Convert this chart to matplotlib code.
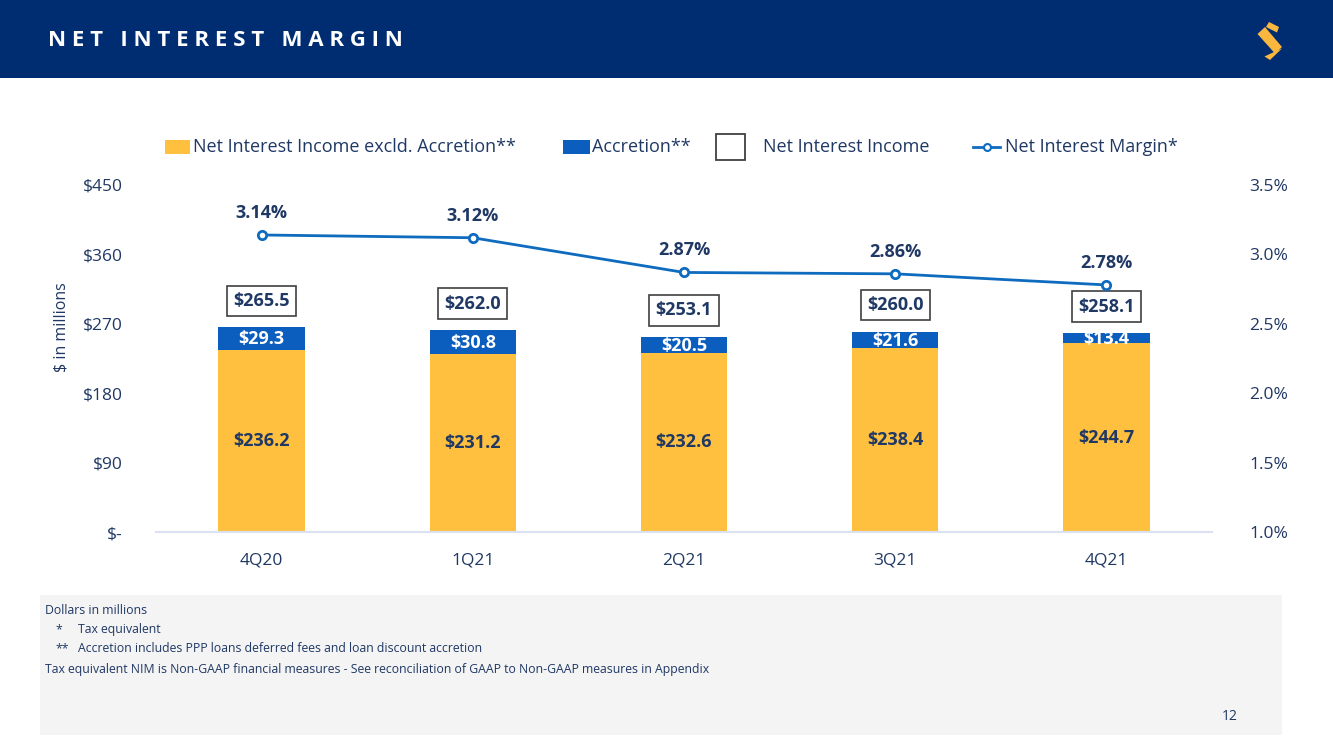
"""Net interest margin slide: stacked bars of net interest income with NIM line."""

import matplotlib.pyplot as plt
from matplotlib.patches import Rectangle, Polygon
from matplotlib.lines import Line2D
from matplotlib.ticker import FixedLocator

plt.rcParams['font.family'] = ['Open Sans', 'DejaVu Sans']

quarters = ['4Q20', '1Q21', '2Q21', '3Q21', '4Q21']
nii_excl = [236.2, 231.2, 232.6, 238.4, 244.7]
accretion = [29.3, 30.8, 20.5, 21.6, 13.4]
nii_total = [265.5, 262.0, 253.1, 260.0, 258.1]
nim = [3.14, 3.12, 2.87, 2.86, 2.78]

left_ticks = [0, 90, 180, 270, 360, 450]
left_labels = ['$-', '$90', '$180', '$270', '$360', '$450']
right_ticks = [1.0, 1.5, 2.0, 2.5, 3.0, 3.5]

NAVY = '#002D72'
TEXT = '#1F3864'
YELLOW = '#FFBF3F'
BLUE = '#0B5EBE'
LINE = '#0E6BBE'

W, H = 1333, 749
fig = plt.figure(figsize=(W / 100, H / 100), dpi=100)
fig.patch.set_facecolor('white')


def px(x, y):
    # pixel position -> figure fraction
    return (x / W, 1 - y / H)


# header band
fig.patches.append(Rectangle(px(0, 78), 1, 78 / H, transform=fig.transFigure,
                             facecolor=NAVY, edgecolor='none', zorder=0))
fig.text(48 / W, 1 - 41 / H, 'N E T   I N T E R E S T   M A R G I N', color='white',
         fontsize=16, fontweight='bold', va='center', ha='left')

# logo, rough "S" from three slanted pieces
logo = [
    [px(1269, 22), px(1279, 27), px(1277, 32.5), px(1266, 27)],
    [px(1257.5, 34), px(1265, 27), px(1282, 47), px(1275, 53.5)],
    [px(1275, 51.5), px(1282, 48.5), px(1270, 60), px(1264.5, 56.5)],
]
for pts in logo:
    fig.patches.append(Polygon(pts, closed=True, transform=fig.transFigure,
                               facecolor='#F9B740', edgecolor='none'))

# footnote panel
fig.patches.append(Rectangle(px(40, 735), (1282 - 40) / W, (735 - 595) / H,
                             transform=fig.transFigure, facecolor='#F4F4F4',
                             edgecolor='none', zorder=0))
notes = [
    (45, 611, 'Dollars in millions'),
    (55, 630, '*'),
    (78, 630, 'Tax equivalent'),
    (55, 649, '**'),
    (78, 649, 'Accretion includes PPP loans deferred fees and loan discount accretion'),
    (45, 669, 'Tax equivalent NIM is Non-GAAP financial measures - See reconciliation of GAAP to Non-GAAP measures in Appendix'),
]
for x, y, s in notes:
    fig.text(x / W, 1 - y / H, s, fontsize=8.8, color=TEXT, va='center', ha='left')
fig.text(1222 / W, 1 - 716 / H, '12', fontsize=10, color=TEXT, va='center', ha='left')

# main axes
ax = fig.add_axes([156 / W, 1 - 532 / H, (1212 - 156) / W, (532 - 185) / H])
x = range(len(quarters))
ax.bar(x, nii_excl, width=0.41, color=YELLOW, zorder=2)
ax.bar(x, accretion, width=0.41, bottom=nii_excl, color=BLUE, zorder=2)
ax.set_xlim(-0.5, len(quarters) - 0.5)
ax.set_ylim(0, 450)
ax.yaxis.set_major_locator(FixedLocator(left_ticks))
ax.set_yticklabels(left_labels)
ax.set_xticks(list(x))
ax.set_xticklabels(quarters)
ax.tick_params(axis='y', length=0, pad=24, labelsize=12.5, labelcolor=TEXT)
ax.tick_params(axis='x', length=0, pad=15, labelsize=12.5, labelcolor=TEXT)
for s in ['top', 'right', 'left']:
    ax.spines[s].set_visible(False)
ax.spines['bottom'].set_color('#D9E1F2')
ax.spines['bottom'].set_linewidth(1.5)
ax.set_ylabel('$ in millions', fontsize=11.5, color=TEXT)
ax.yaxis.set_label_coords(-0.082, 0.59)

for i in x:
    ax.text(i, nii_excl[i] / 2, f'${nii_excl[i]:.1f}', ha='center', va='center',
            fontsize=13, fontweight='bold', color=TEXT, zorder=3)
    ax.text(i, nii_excl[i] + accretion[i] / 2 - 1, f'${accretion[i]:.1f}', ha='center', va='center',
            fontsize=13, fontweight='bold', color='white', zorder=3)
    ax.annotate(f'${nii_total[i]:.1f}', xy=(i, nii_total[i]), xytext=(0, 19),
                textcoords='offset points', ha='center', va='center', fontsize=13,
                fontweight='bold', color=TEXT, zorder=4,
                bbox=dict(boxstyle='square,pad=0.35', facecolor='white',
                          edgecolor='#404040', linewidth=1.2))

ax2 = ax.twinx()
ax2.plot(list(x), nim, color=LINE, linewidth=2, marker='o', markersize=6,
         markerfacecolor='white', markeredgecolor=LINE, markeredgewidth=2, zorder=5)
ax2.set_ylim(1.0, 3.5)
ax2.yaxis.set_major_locator(FixedLocator(right_ticks))
ax2.set_yticklabels([f'{t:.1f}%' for t in right_ticks])
ax2.tick_params(axis='y', length=0, pad=27, labelsize=12.5, labelcolor=TEXT)
for s in ['top', 'right', 'left', 'bottom']:
    ax2.spines[s].set_visible(False)
for i in x:
    ax2.annotate(f'{nim[i]:.2f}%', xy=(i, nim[i]), xytext=(0, 16), textcoords='offset points',
                 ha='center', va='center', fontsize=13, fontweight='bold', color=TEXT)

# legend, laid out by hand to follow the slide
leg_y = 147
fig.patches.append(Rectangle(px(165, leg_y + 7), 25 / W, 14 / H, transform=fig.transFigure,
                             facecolor=YELLOW, edgecolor='none'))
fig.patches.append(Rectangle(px(563, leg_y + 7), 27 / W, 14 / H, transform=fig.transFigure,
                             facecolor=BLUE, edgecolor='none'))
fig.patches.append(Rectangle(px(716, leg_y + 13), 29 / W, 26 / H, transform=fig.transFigure,
                             facecolor='white', edgecolor='#404040', linewidth=1.3))
fig.lines.append(Line2D([973 / W, 1000 / W], [1 - leg_y / H] * 2, transform=fig.transFigure,
                        color=LINE, linewidth=2))
fig.lines.append(Line2D([986.5 / W], [1 - leg_y / H], transform=fig.transFigure, marker='o',
                        markersize=5, markerfacecolor='white', markeredgecolor=LINE,
                        markeredgewidth=1.5, color=LINE))
legend_items = [
    (193, 'Net Interest Income excld. Accretion**'),
    (592, 'Accretion**'),
    (763, 'Net Interest Income'),
    (1005, 'Net Interest Margin*'),
]
for lx, s in legend_items:
    fig.text(lx / W, 1 - leg_y / H, s, fontsize=13, color=TEXT, va='center', ha='left')

fig.savefig('out.png', dpi=100)
